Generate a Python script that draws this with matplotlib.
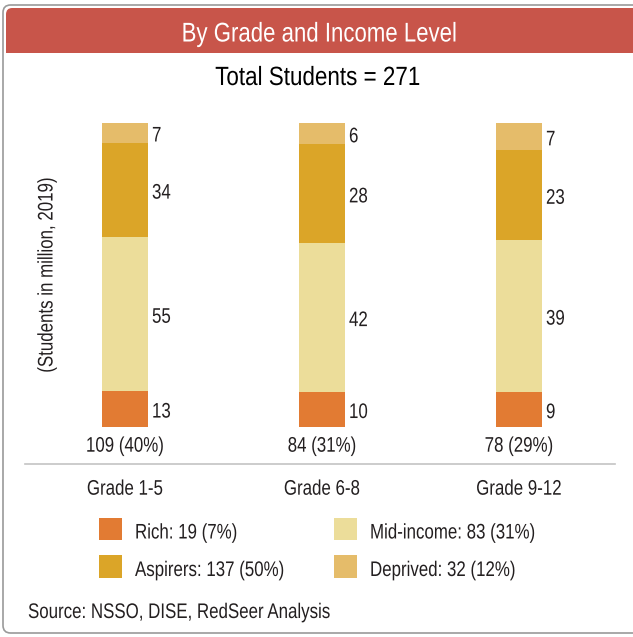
import matplotlib
matplotlib.use("Agg")
import matplotlib.pyplot as plt
from matplotlib.patches import FancyBboxPatch, Rectangle
from matplotlib.lines import Line2D
from matplotlib.patheffects import AbstractPathEffect
from matplotlib.transforms import Affine2D
import numpy as np

# ---------------- data ----------------
categories = ["Grade 1-5", "Grade 6-8", "Grade 9-12"]
rich = [13, 10, 9]
mid_income = [55, 42, 39]
aspirers = [34, 28, 23]
deprived = [7, 6, 7]
grade_totals = [109, 84, 78]
grade_shares = [40, 31, 29]

legend_names = ["Rich", "Mid-income", "Aspirers", "Deprived"]
legend_totals = [19, 83, 137, 32]
legend_pcts = [7, 31, 50, 12]

title = "By Grade and Income Level"
subtitle = "Total Students = 271"
ylabel = "(Students in million, 2019)"
source = "Source: NSSO, DISE, RedSeer Analysis"

# ---------------- style ----------------
plt.rcParams['font.family'] = ['Liberation Sans', 'DejaVu Sans']
W, H = 633, 637
colors = {"Rich": "#E27B33", "Mid-income": "#ECDD9A",
          "Aspirers": "#DBA528", "Deprived": "#E5BC6A"}
txt = "#231f20"
PX = 72 / 100  # points per pixel


class Condense(AbstractPathEffect):
    """Horizontally squeeze text to mimic a condensed typeface."""

    def __init__(self, sx=0.82, anchor="center"):
        super().__init__()
        self.sx = sx
        self.anchor = anchor

    def draw_path(self, renderer, gc, tpath, affine, rgbFace=None):
        ext = tpath.get_extents()
        if self.anchor == "left":
            cx = 0.0
        elif self.anchor == "right":
            cx = ext.x1
        else:
            cx = (ext.x0 + ext.x1) / 2
        t = Affine2D().translate(-cx, 0).scale(self.sx, 1).translate(cx, 0) + affine
        renderer.draw_path(gc, tpath, t, rgbFace)


SX = 0.80


def cond(anchor="center", sx=SX):
    return [Condense(sx, anchor)]


fig = plt.figure(figsize=(W / 100, H / 100), dpi=100)


def fx(x):
    return x / W


def fy(y):
    return 1 - y / H


# outer frame
frame = FancyBboxPatch((fx(3), fy(633)), fx(660) - fx(3), fy(5) - fy(633),
                       boxstyle="round,pad=0,rounding_size=0.012",
                       transform=fig.transFigure, facecolor="white",
                       edgecolor="#9a9a9a", linewidth=1.2, zorder=-3)
fig.patches.append(frame)
# header band
hdr = FancyBboxPatch((fx(6), fy(53)), fx(660) - fx(6), fy(8) - fy(53),
                     boxstyle="round,pad=0,rounding_size=0.01",
                     transform=fig.transFigure, facecolor="#C8554A",
                     edgecolor="none", zorder=-2)
fig.patches.append(hdr)
fig.patches.append(Rectangle((fx(6), fy(53)), fx(660) - fx(6), fy(30) - fy(53),
                             transform=fig.transFigure, facecolor="#C8554A",
                             edgecolor="none", zorder=-2))

fig.text(fx(319.5), fy(41.5), title, color="white", fontsize=19.5,
         ha="center", va="baseline", path_effects=cond("center", 0.82))
fig.text(fx(318), fy(85), subtitle, color="black", fontsize=19,
         ha="center", va="baseline", path_effects=cond("center", 0.85))

# ---------------- bars ----------------
ax_left, ax_right = 26.5, 617.5
ax_top, ax_bot = 123, 427
ax = fig.add_axes([fx(ax_left), fy(ax_bot), fx(ax_right) - fx(ax_left),
                   fy(ax_top) - fy(ax_bot)])
ax.set_zorder(2)
ax.set_xlim(-0.5, 2.5)
ax.set_ylim(0, 1)
ax.axis("off")

x = np.arange(len(categories))
series = [("Rich", rich), ("Mid-income", mid_income),
          ("Aspirers", aspirers), ("Deprived", deprived)]
sums = np.array(rich) + np.array(mid_income) + np.array(aspirers) + np.array(deprived)
bw = 46 / 197
FS = 15.2
bottom = np.zeros(len(categories))
for name, vals in series:
    frac = np.array(vals) / sums
    ax.bar(x, frac, bw, bottom=bottom, color=colors[name], linewidth=0)
    for i in range(len(categories)):
        ax.annotate(str(vals[i]), (x[i] + bw / 2, bottom[i] + frac[i] / 2),
                    xytext=(4 * PX, -8.7 * PX), textcoords="offset points",
                    ha="left", va="baseline", fontsize=FS, color=txt,
                    annotation_clip=False, path_effects=cond("left"))
    bottom = bottom + frac

for i in range(len(categories)):
    ax.annotate(f"{grade_totals[i]} ({grade_shares[i]}%)", (x[i], 0),
                xytext=(0, -24.7 * PX), textcoords="offset points",
                ha="center", va="baseline", fontsize=FS, color=txt,
                annotation_clip=False, path_effects=cond("center"))
    ax.annotate(categories[i], (x[i], 0), xytext=(0, -67.7 * PX),
                textcoords="offset points", ha="center", va="baseline",
                fontsize=FS, color=txt, annotation_clip=False,
                path_effects=cond("center"))

# separator line
fig.lines.append(Line2D([fx(25), fx(615)], [fy(463.5), fy(463.5)],
                        transform=fig.transFigure, color="#c4c4c4", lw=1.2))

# y label
fig.text(fx(47), fy(275), ylabel, rotation=90, ha="center", va="center",
         fontsize=FS, color=txt, path_effects=cond("center"))

# ---------------- legend ----------------
leg_pos = {"Rich": (99, 517.5), "Mid-income": (334, 517.5),
           "Aspirers": (99, 555), "Deprived": (334, 555)}
for name, tot, pct in zip(legend_names, legend_totals, legend_pcts):
    lx, ly = leg_pos[name]
    fig.patches.append(Rectangle((fx(lx), fy(ly + 22.5)), fx(22.5), 22.5 / H,
                                 transform=fig.transFigure,
                                 facecolor=colors[name], edgecolor="none"))
    fig.text(fx(lx + 36), fy(ly + 21), f"{name}: {tot} ({pct}%)", ha="left",
             va="baseline", fontsize=FS, color=txt,
             path_effects=cond("left"))

fig.text(fx(28), fy(618), source, ha="left", va="baseline", fontsize=FS,
         color=txt, path_effects=cond("left"))

fig.savefig("out.png", dpi=100)
